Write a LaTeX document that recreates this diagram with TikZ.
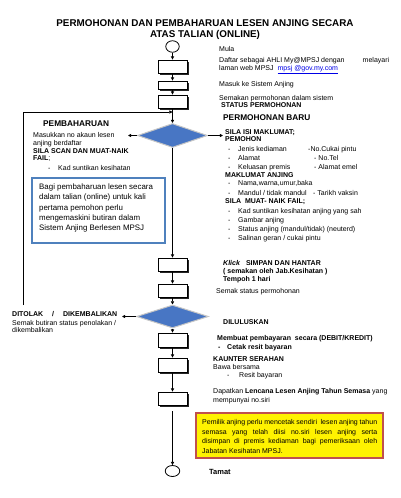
\documentclass[tikz,border=0pt]{standalone}
\usepackage{fontspec}
\setmainfont{Liberation Sans}
\usetikzlibrary{shapes.geometric,arrows.meta,shadows}
\definecolor{dblue}{RGB}{72,118,196}
\definecolor{bxblue}{RGB}{79,129,189}
\definecolor{ybord}{RGB}{192,80,77}
\definecolor{lnk}{RGB}{0,0,230}
\newcommand{\fsm}{\fontsize{7}{8.4}\selectfont}
\newcommand{\fhd}{\fontsize{8.3}{10}\selectfont\bfseries}
\newcommand{\fbx}{\fontsize{7.9}{10}\selectfont}
\newcommand{\fti}{\fontsize{9.85}{12}\selectfont\bfseries}
\tikzset{
  t/.style={font=\fsm, anchor=base west, inner sep=0pt},
  tb/.style={font=\fsm\bfseries, anchor=base west, inner sep=0pt},
  hd/.style={font=\fhd, anchor=base west, inner sep=0pt},
  bt/.style={font=\fbx, anchor=base west, inner sep=0pt},
  ti/.style={font=\fti, anchor=base, inner sep=0pt},
  proc/.style={draw, fill=white, line width=0.8pt, minimum width=29pt, inner sep=0pt,
    drop shadow={shadow xshift=1.6pt, shadow yshift=-1.6pt, fill=black, opacity=0.85}},
  term/.style={draw, ellipse, line width=0.8pt, inner sep=0pt, fill=white},
  dec/.style={diamond, fill=dblue, draw=gray!45, line width=1pt, inner sep=0pt},
  arr/.style={-{Triangle[length=3.2pt,width=3.2pt]}, line width=0.7pt},
  ln/.style={line width=0.7pt}
}
\begin{document}
\begin{tikzpicture}[x=1pt,y=-1pt]
\useasboundingbox (0,0) rectangle (400,498);
% title
\node[ti] (t1) at (205,26.7) {PERMOHONAN DAN PEMBAHARUAN LESEN ANJING SECARA};
\node[ti] (t2) at (205,37.5) {ATAS TALIAN (ONLINE)};
% spine
\node[term, minimum width=13.5pt, minimum height=11.5pt] (start) at (172.5,46.5) {};
\node[proc, minimum height=13pt] (b1) at (172.5,66.5) {};
\node[proc, minimum height=8pt] (b2) at (172.5,85) {};
\node[proc, minimum height=13pt] (b3) at (172.5,101.5) {};
\node[dec, minimum width=70pt, minimum height=24pt] (d1) at (172.5,135.5) {};
\node[proc, minimum height=13pt] (b4) at (172.5,264.5) {};
\node[proc, minimum height=13pt] (b5) at (172.5,290.5) {};
\node[dec, minimum width=72pt, minimum height=23pt] (d2) at (172.5,316.5) {};
\node[proc, minimum height=14pt] (b6) at (172.5,340) {};
\node[proc, minimum height=14pt] (b7) at (172.5,365) {};
\node[proc, minimum height=13pt] (b8) at (172.5,398.5) {};
\node[term, minimum width=14.5pt, minimum height=11pt] (end) at (172.5,471) {};
\coordinate (j) at (172.5,112);
\coordinate (lb) at (23,305);
\coordinate (lm) at (128,135.5);
\coordinate (rm) at (223,135.5);
\coordinate (dl) at (122,316.5);
\draw[arr] (start) -- (b1);
\draw[arr] (b1) -- (b2);
\draw[arr] (b2) -- (b3);
\draw[arr] (b3) -- (d1);
\draw[arr] (lb) |- (j);
\draw[arr] (d1) -- (b4);
\draw[arr] (b4) -- (b5);
\draw[arr] (b5) -- (d2);
\draw[arr] (d2) -- (b6);
\draw[arr] (b6) -- (b7);
\draw[arr] (b7) -- (b8);
\draw[arr, shorten <=6pt] (b8) -- (end);
\draw[arr] (d1.west) -- (lm);
\draw[arr] (d1.east) -- (rm);
\draw[arr] (d2.west) -- (dl);
% right texts top
\node[t] (mula) at (219,51.5) {Mula};
\node[t] (daftar) at (219,62.3) {\makebox[170pt][l]{Daftar sebagai AHLI My@MPSJ dengan\hfill melayari}};
\node[t] (laman) at (219,70.5) {laman web MPSJ\ \ \textcolor{lnk}{\underline{mpsj @gov.my.com}}};
\node[t] (masuk) at (219,86.5) {Masuk ke Sistem Anjing};
\node[t] (semakan) at (219,100) {Semakan permohonan dalam sistem};
\node[tb] (status) at (221,107.5) {STATUS PERMOHONAN};
\node[hd] (baru) at (223,120) {PERMOHONAN BARU};
\node[tb] (silaisi) at (225,134.5) {SILA ISI MAKLUMAT;};
\node[tb] (pemohon) at (225,141.5) {PEMOHON};
\node[t] (r1d) at (228,151.6) {-};
\node[t] (r1) at (238,151.6) {Jenis kediaman};
\node[t] (r1b) at (308,151.6) {-No.Cukai pintu};
\node[t] (r2d) at (228,160.6) {-};
\node[t] (r2) at (238,160.6) {Alamat};
\node[t] (r2b) at (314,160.6) {- No.Tel};
\node[t] (r3d) at (228,169) {-};
\node[t] (r3) at (238,169) {Keluasan premis};
\node[t] (r3b) at (314,169) {- Alamat emel};
\node[tb] (makanj) at (225,177.5) {MAKLUMAT ANJING};
\node[t] (r4d) at (228,185.6) {-};
\node[t] (r4) at (238,185.6) {Nama,warna,umur,baka};
\node[t] (r5d) at (228,195) {-};
\node[t] (r5) at (238,195) {Mandul / tidak mandul};
\node[t] (r5b) at (313,195) {- Tarikh vaksin};
\node[tb] (muat) at (225,203.5) {SILA\ \ MUAT- NAIK FAIL;};
\node[t] (r6d) at (228,213) {-};
\node[t] (r6) at (238,213) {Kad suntikan kesihatan anjing yang sah};
\node[t] (r7d) at (228,222.3) {-};
\node[t] (r7) at (238,222.3) {Gambar anjing};
\node[t] (r8d) at (228,231.6) {-};
\node[t] (r8) at (238,231.6) {Status anjing (mandul/tidak) (neuterd)};
\node[t] (r9d) at (228,240.6) {-};
\node[t] (r9) at (238,240.6) {Salinan geran / cukai pintu};
\node[tb] (klick) at (223,265.5) {\textit{Klick}\ \ \ SIMPAN DAN HANTAR};
\node[tb] (semjab) at (223,273.5) {( semakan oleh Jab.Kesihatan )};
\node[tb] (tempoh) at (223,281.5) {Tempoh 1 hari};
\node[t] (semak) at (216,293.3) {Semak status permohonan};
\node[tb] (lulus) at (223,324.5) {DILULUSKAN};
\node[tb] (bayar) at (217,340.5) {Membuat pembayaran\ \ secara (DEBIT/KREDIT)};
\node[tb] (cetd) at (218,349.5) {-};
\node[tb] (cet) at (227,349.5) {Cetak resit bayaran};
\node[tb] (kaunter) at (213,361.5) {KAUNTER SERAHAN};
\node[t] (bawa) at (213,369.3) {Bawa bersama};
\node[t] (resd) at (227,377.3) {-};
\node[t] (res) at (239,377.3) {Resit bayaran};
\node[t] (dapat) at (213,393.3) {Dapatkan \textbf{Lencana Lesen Anjing Tahun Semasa} yang};
\node[t] (punya) at (213,402.3) {mempunyai no.siri};
% yellow box
\node[draw=ybord, fill=yellow, line width=1.5pt, minimum width=187pt, minimum height=45pt, inner sep=0pt,
  drop shadow={shadow xshift=1pt, shadow yshift=-1pt, fill=gray, opacity=0.5}] (ybox) at (289.5,435.5) {};
\node[t] (y1) at (202,424.8) {\makebox[175pt][s]{Pemilik anjing perlu mencetak sendiri\ \ lesen anjing tahun}};
\node[t] (y2) at (202,434.3) {\makebox[175pt][s]{semasa yang telah diisi no.siri lesen anjing serta}};
\node[t] (y3) at (202,443.8) {\makebox[175pt][s]{disimpan di premis kediaman bagi pemeriksaan oleh}};
\node[t] (y4) at (202,453.3) {Jabatan Kesihatan MPSJ.};
\node[tb, font=\fontsize{7.5}{9}\selectfont\bfseries] (tamat) at (209,474) {Tamat};
% left texts
\node[hd] (pemb) at (43,126) {PEMBAHARUAN};
\node[t] (masukkan) at (33,137.3) {Masukkan no akaun lesen};
\node[t] (berdaftar) at (33,145.3) {anjing berdaftar};
\node[tb] (scan) at (33,153.5) {SILA SCAN DAN MUAT-NAIK};
\node[t] (fail) at (33,160.5) {\textbf{FAIL};};
\node[t] (kadd) at (48,170.3) {-};
\node[t] (kad) at (58,170.3) {Kad suntikan kesihatan};
\node[draw=bxblue, line width=1.3pt, minimum width=133pt, minimum height=65pt, inner sep=0pt] (bx) at (98.5,210.5) {};
\node[bt] (bx1) at (39,189.6) {Bagi pembaharuan lesen secara};
\node[bt] (bx2) at (39,199.9) {dalam talian (online) untuk kali};
\node[bt] (bx3) at (39,210.2) {pertama pemohon perlu};
\node[bt] (bx4) at (39,220.6) {mengemaskini butiran dalam};
\node[bt] (bx5) at (39,230.8) {Sistem Anjing Berlesen MPSJ};
\node[tb] (ditolak) at (12,316.5) {\makebox[105pt][s]{DITOLAK / DIKEMBALIKAN}};
\node[t] (semakb) at (12,325) {Semak butiran status penolakan /};
\node[t] (dikemb) at (12,332.3) {dikembalikan};
\end{tikzpicture}
\end{document}
